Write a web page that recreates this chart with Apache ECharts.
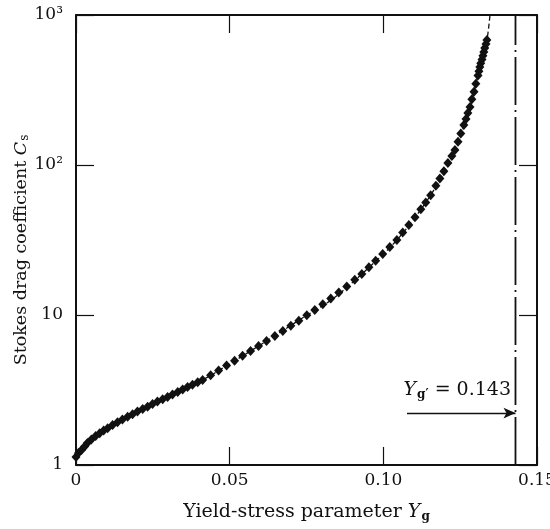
<!DOCTYPE html>
<html>
<head>
<meta charset="utf-8">
<script src="https://cdn.jsdelivr.net/npm/echarts/dist/echarts.min.js"></script>
<style>
  html, body { margin: 0; padding: 0; background: #fff; }
  #chart { width: 550px; height: 529px; }
</style>
</head>
<body>
<div id="chart"></div>
<script>
// Measured Stokes drag coefficient against yield-stress parameter
const measuredYg = [
  0, 0.0008, 0.0018, 0.0028, 0.0037, 0.0050, 0.0064, 0.0077, 0.0090, 0.0103,
  0.0119, 0.0135, 0.0151, 0.0168, 0.0184, 0.0200, 0.0217, 0.0233, 0.0249, 0.0265,
  0.0282, 0.0298, 0.0314, 0.0331, 0.0347, 0.0363, 0.0379, 0.0396, 0.0412,
  0.0438, 0.0464, 0.0490, 0.0516, 0.0542, 0.0568, 0.0594, 0.0620, 0.0647, 0.0673,
  0.0699, 0.0725, 0.0751, 0.0777, 0.0803, 0.0829, 0.0855, 0.0881, 0.0907, 0.0930,
  0.0953, 0.0975, 0.0998, 0.1021, 0.1044,
  0.1063, 0.1083, 0.1103, 0.1122, 0.1138, 0.1154, 0.1171, 0.1184, 0.1197, 0.1210,
  0.1223, 0.1233, 0.1243, 0.1252, 0.1262, 0.1269, 0.1275, 0.1282, 0.1288, 0.1295,
  0.1301, 0.1308, 0.1311, 0.1314, 0.1317, 0.1321, 0.1324, 0.1327, 0.1330, 0.1334,
  0.1337
];
const measuredCs = [
  1.13, 1.20, 1.26, 1.33, 1.40, 1.48, 1.56, 1.63, 1.70, 1.76,
  1.85, 1.93, 2.01, 2.10, 2.18, 2.27, 2.36, 2.45, 2.55, 2.65,
  2.74, 2.84, 2.95, 3.07, 3.19, 3.31, 3.43, 3.56, 3.69,
  3.97, 4.27, 4.60, 4.95, 5.35, 5.76, 6.22, 6.71, 7.24, 7.82,
  8.47, 9.17, 9.97, 10.8, 11.8, 12.9, 14.1, 15.5, 17.2, 18.8,
  20.8, 23.0, 25.5, 28.4, 31.6,
  35.5, 39.8, 44.8, 50.7, 56.3, 62.9, 72.6, 81.3, 91.0, 103,
  115, 126, 143, 162, 185, 203, 222, 244, 274, 308,
  348, 395, 422, 450, 477, 505, 535, 567, 603, 641,
  681
];

// Predicted curve (dashed)
const curveYg = [0, 0.0034, 0.0086, 0.0198, 0.0305, 0.0412, 0.0510, 0.0620, 0.0728,
  0.0835, 0.0933, 0.1044, 0.1152, 0.1233, 0.1282, 0.1314, 0.1337, 0.1347];
const curveCs = [1.13, 1.40, 1.66, 2.26, 2.88, 3.69, 4.86, 6.71, 9.3,
  12.8, 19.0, 31.6, 62, 126, 244, 450, 681, 1000];

// Limiting yield-stress value
const limitYg = 0.143;

// Tick labels
const xTicks = [0, 0.05, 0.10, 0.15];
const xTickLabels = ['0', '0.05', '0.10', '0.15'];
const yTicks = [1, 10, 100, 1000];
const yTickLabels = ['1', '10', '10²', '10³'];

const FONT = 'DejaVu Serif';
const INK = '#111';

function pick(ticks, labels, v) {
  for (let i = 0; i < ticks.length; i++) {
    if (Math.abs(ticks[i] - v) < 1e-9 * Math.max(1, Math.abs(ticks[i]))) return labels[i];
  }
  return '';
}

const zip = (a, b) => a.map((v, i) => [v, b[i]]);

const frameLine = { show: true, onZero: false, lineStyle: { color: INK, width: 2 } };
const innerTick = { show: true, inside: true, length: 18, lineStyle: { color: INK, width: 1.2 } };

const chart = echarts.init(document.getElementById('chart'), null, { renderer: 'canvas' });

chart.setOption({
  backgroundColor: '#fff',
  animation: false,
  grid: { left: 76, right: 13, top: 15, bottom: 64, containLabel: false, outerBoundsMode: 'none' },
  xAxis: [
    {
      type: 'value', min: 0, max: 0.15, interval: 0.05, position: 'bottom',
      axisLine: frameLine, axisTick: innerTick, splitLine: { show: false },
      axisLabel: {
        margin: 7, color: INK, fontFamily: FONT, fontSize: 17,
        formatter: v => pick(xTicks, xTickLabels, v)
      },
      name: '{t|Yield-stress parameter }{i|Y}{s|g}',
      nameLocation: 'middle', nameGap: 37,
      nameTextStyle: {
        rich: {
          t: { fontFamily: FONT, fontSize: 19, color: INK },
          i: { fontFamily: FONT, fontSize: 19, fontStyle: 'italic', color: INK },
          s: { fontFamily: FONT, fontSize: 12, fontWeight: 'bold', color: INK, padding: [9, 0, 0, 1] }
        }
      }
    },
    {
      type: 'value', min: 0, max: 0.15, interval: 0.05, position: 'top',
      axisLine: frameLine, axisTick: innerTick, axisLabel: { show: false }, splitLine: { show: false }
    }
  ],
  yAxis: [
    {
      type: 'log', logBase: 10, min: 1, max: 1000, position: 'left',
      axisLine: frameLine, axisTick: innerTick, splitLine: { show: false }, minorTick: { show: false },
      axisLabel: {
        margin: 13, color: INK, fontFamily: FONT, fontSize: 17,
        formatter: v => pick(yTicks, yTickLabels, v)
      },
      name: '{t|Stokes drag coefficient }{i|C}{s|s}',
      nameLocation: 'middle', nameGap: 45, nameRotate: 90, nameMoveOverlap: false,
      nameTextStyle: {
        padding: [0, 20, 0, 0],
        rich: {
          t: { fontFamily: FONT, fontSize: 17.5, color: INK },
          i: { fontFamily: FONT, fontSize: 17.5, fontStyle: 'italic', color: INK },
          s: { fontFamily: FONT, fontSize: 12, color: INK, padding: [8, 0, 0, 1] }
        }
      }
    },
    {
      type: 'log', logBase: 10, min: 1, max: 1000, position: 'right',
      axisLine: frameLine, axisTick: innerTick, axisLabel: { show: false }, splitLine: { show: false }
    }
  ],
  series: [
    {
      name: 'curve', type: 'line', data: zip(curveYg, curveCs),
      smooth: 0.3, symbol: 'none', clip: true,
      lineStyle: { color: INK, width: 1.3, type: [5, 3] },
      z: 2
    },
    {
      name: 'measured', type: 'scatter', data: zip(measuredYg, measuredCs),
      symbol: 'diamond', symbolSize: [9, 10],
      itemStyle: { color: INK, opacity: 1 },
      z: 3
    },
    {
      name: 'limit', type: 'line', data: [[limitYg, 1], [limitYg, 1000]],
      symbol: 'none', lineStyle: { color: INK, width: 1.8, type: [48, 5, 2, 5] },
      markLine: {
        silent: true, symbol: ['none', 'arrow'], symbolSize: [8, 12],
        lineStyle: { color: INK, width: 1.4, type: 'solid' },
        label: { show: false },
        data: [[{ coord: [0.1077, 2.22] }, { coord: [limitYg, 2.22] }]]
      },
      z: 4
    }
  ],
  graphic: [
    {
      type: 'text', right: 39, top: 381,
      style: {
        text: '{i|Y}{s|g′}{n| = ' + limitYg.toFixed(3) + '}',
        rich: {
          i: { fontFamily: FONT, fontSize: 19, fontStyle: 'italic', fill: INK },
          s: { fontFamily: FONT, fontSize: 12, fontWeight: 'bold', fill: INK, padding: [9, 0, 0, 1] },
          n: { fontFamily: FONT, fontSize: 19, fill: INK }
        }
      }
    }
  ]
});
</script>
</body>
</html>
